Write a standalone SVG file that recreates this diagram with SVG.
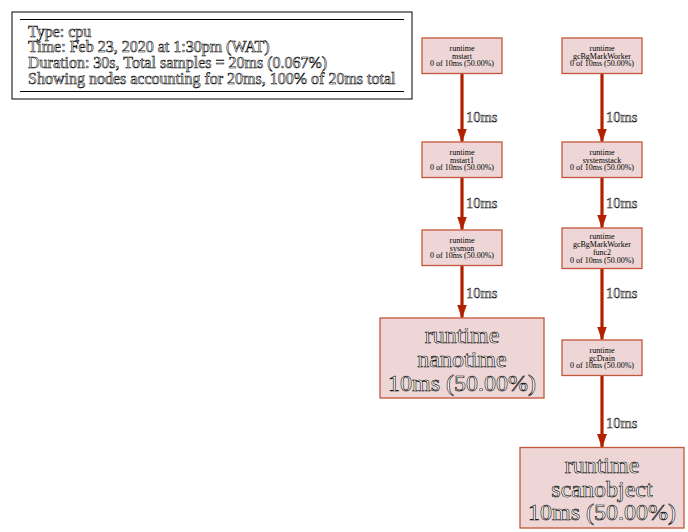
<svg xmlns="http://www.w3.org/2000/svg" width="688" height="532" viewBox="0 0 688 532">
<defs>
<style>
text{font-family:"Liberation Serif","Times New Roman",Times,serif;fill:#000;text-anchor:middle}
.legend text{text-anchor:start;font-size:16px;fill:#fff;stroke:#000;stroke-width:0.55}
.node rect{fill:#edd6d5;stroke:#c3553a;stroke-width:1.3}
.s{font-size:8px}
.b{font-size:24px;fill:#fff;stroke:#000;stroke-width:0.6}
.edge line{stroke:#b22000;stroke-width:3.2}
.lbl{font-size:14.5px;text-anchor:start;fill:#fff;stroke:#000;stroke-width:0.5}
</style>
<marker id="a" markerWidth="14" markerHeight="10" refX="13" refY="5" orient="auto" markerUnits="userSpaceOnUse">
<path d="M0,0.5 L13,5 L0,9.5 z" fill="#b22000" stroke="#b22000" stroke-width="0.8"/>
</marker>
</defs>
<rect width="688" height="532" fill="#fff"/>
<g font-family="Liberation Serif, Times New Roman, serif">
<g id="legend" class="legend">
<rect x="12" y="12" width="400" height="87" fill="#fff" stroke="#000" stroke-width="1"/>
<line x1="20" y1="19.5" x2="404" y2="19.5" stroke="#000"/>
<line x1="20" y1="91.5" x2="404" y2="91.5" stroke="#000"/>
<text x="28" y="36.5">Type: cpu</text>
<text x="28" y="52">Time: Feb 23, 2020 at 1:30pm (WAT)</text>
<text x="28" y="67.5">Duration: 30s, Total samples = 20ms (0.067%)</text>
<text x="28" y="83.5">Showing nodes accounting for 20ms, 100% of 20ms total</text>
</g>
<g id="edges" class="edge">
<line x1="462" y1="73.5" x2="462" y2="141.5" marker-end="url(#a)"/>
<line x1="462" y1="177.5" x2="462" y2="229.5" marker-end="url(#a)"/>
<line x1="462" y1="265.5" x2="462" y2="317.5" marker-end="url(#a)"/>
<line x1="602" y1="73.5" x2="602" y2="141.5" marker-end="url(#a)"/>
<line x1="602" y1="177.5" x2="602" y2="227.5" marker-end="url(#a)"/>
<line x1="602" y1="268.5" x2="602" y2="339.5" marker-end="url(#a)"/>
<line x1="602" y1="375.5" x2="602" y2="447" marker-end="url(#a)"/>
<text class="lbl" x="466" y="122">10ms</text>
<text class="lbl" x="466" y="208">10ms</text>
<text class="lbl" x="466" y="298">10ms</text>
<text class="lbl" x="606" y="122">10ms</text>
<text class="lbl" x="606" y="208">10ms</text>
<text class="lbl" x="606" y="298">10ms</text>
<text class="lbl" x="606" y="428">10ms</text>
</g>
<g id="n_mstart" class="node">
<rect x="422" y="38" width="80" height="35.5"/>
<text class="s" x="462" y="51">runtime</text>
<text class="s" x="462" y="58.5">mstart</text>
<text class="s" x="462" y="66">0 of 10ms (50.00%)</text>
</g>
<g id="n_mstart1" class="node">
<rect x="422" y="142" width="80" height="35.5"/>
<text class="s" x="462" y="155">runtime</text>
<text class="s" x="462" y="162.5">mstart1</text>
<text class="s" x="462" y="170">0 of 10ms (50.00%)</text>
</g>
<g id="n_sysmon" class="node">
<rect x="422" y="230" width="80" height="35.5"/>
<text class="s" x="462" y="243">runtime</text>
<text class="s" x="462" y="250.5">sysmon</text>
<text class="s" x="462" y="258">0 of 10ms (50.00%)</text>
</g>
<g id="n_nanotime" class="node">
<rect x="380" y="318" width="164" height="80"/>
<text class="b" x="462" y="342.5">runtime</text>
<text class="b" x="462" y="366.5">nanotime</text>
<text class="b" x="462" y="390.5">10ms (50.00%)</text>
</g>
<g id="n_gcBgMarkWorker" class="node">
<rect x="562" y="38" width="80" height="35.5"/>
<text class="s" x="602" y="51">runtime</text>
<text class="s" x="602" y="58.5">gcBgMarkWorker</text>
<text class="s" x="602" y="66">0 of 10ms (50.00%)</text>
</g>
<g id="n_systemstack" class="node">
<rect x="562" y="142" width="80" height="35.5"/>
<text class="s" x="602" y="155">runtime</text>
<text class="s" x="602" y="162.5">systemstack</text>
<text class="s" x="602" y="170">0 of 10ms (50.00%)</text>
</g>
<g id="n_func2" class="node">
<rect x="562" y="228" width="80" height="40.5"/>
<text class="s" x="602" y="239">runtime</text>
<text class="s" x="602" y="247">gcBgMarkWorker</text>
<text class="s" x="602" y="255">func2</text>
<text class="s" x="602" y="263">0 of 10ms (50.00%)</text>
</g>
<g id="n_gcDrain" class="node">
<rect x="562" y="340" width="80" height="35.5"/>
<text class="s" x="602" y="353">runtime</text>
<text class="s" x="602" y="360.5">gcDrain</text>
<text class="s" x="602" y="368">0 of 10ms (50.00%)</text>
</g>
<g id="n_scanobject" class="node">
<rect x="520" y="447.5" width="164" height="80.5"/>
<text class="b" x="602" y="472.5">runtime</text>
<text class="b" x="602" y="496.5">scanobject</text>
<text class="b" x="602" y="520">10ms (50.00%)</text>
</g>
</g>
</svg>
